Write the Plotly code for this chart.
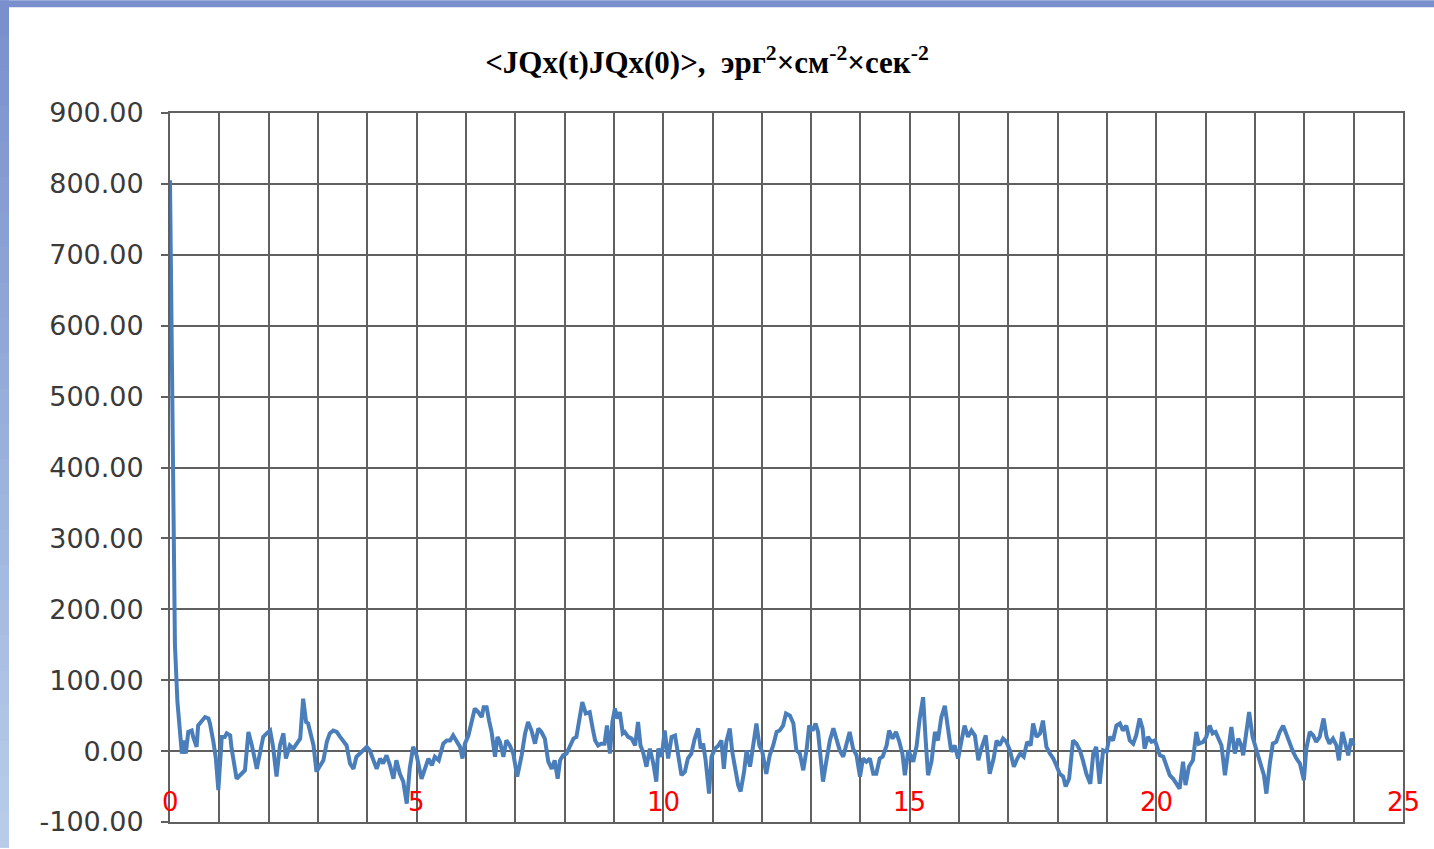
import plotly.graph_objects as go

# time values (x) and correlation function values (y)
t = [0.0, 0.05, 0.10, 0.15, 0.20, 0.24, 0.28, 0.32, 0.37, 0.44, 0.47, 0.54, 0.57, 0.64, 0.71, 0.78, 0.81, 0.88, 0.93, 0.98,
     1.05, 1.11, 1.15, 1.22, 1.25, 1.35, 1.42, 1.52, 1.59, 1.66, 1.76, 1.82, 1.89, 1.96,
     2.03, 2.09, 2.16, 2.23, 2.30, 2.35, 2.43, 2.50, 2.57, 2.64, 2.70, 2.76, 2.80, 2.91, 2.97,
     3.04, 3.11, 3.18, 3.24, 3.31, 3.38, 3.45, 3.51, 3.58, 3.65, 3.72, 3.78, 3.85, 3.92, 3.99,
     4.05, 4.12, 4.19, 4.26, 4.32, 4.39, 4.46, 4.53, 4.59, 4.66, 4.73, 4.80, 4.86, 4.93,
     5.00, 5.10, 5.17, 5.24, 5.31, 5.37, 5.45, 5.54, 5.61, 5.68, 5.74, 5.81, 5.88, 5.93, 5.98,
     6.05, 6.11, 6.18, 6.25, 6.32, 6.36, 6.42, 6.47, 6.52, 6.59, 6.64, 6.69, 6.76, 6.82, 6.89, 6.96,
     7.04, 7.13, 7.20, 7.26, 7.33, 7.40, 7.47, 7.53, 7.60, 7.67, 7.74, 7.80, 7.86, 7.91, 7.97,
     8.04, 8.11, 8.18, 8.24, 8.31, 8.36, 8.43, 8.51, 8.57, 8.62, 8.68, 8.74, 8.81, 8.86, 8.92, 8.97,
     9.02, 9.07, 9.12, 9.18, 9.22, 9.29, 9.36, 9.43, 9.49, 9.54, 9.59, 9.66, 9.73, 9.80, 9.86, 9.90, 9.97,
     10.03, 10.10, 10.17, 10.24, 10.30, 10.37, 10.44, 10.50, 10.57, 10.64, 10.71, 10.76, 10.81, 10.86, 10.93, 10.98,
     11.05, 11.12, 11.18, 11.23, 11.28, 11.35, 11.40, 11.47, 11.52, 11.57, 11.64, 11.69, 11.76, 11.81, 11.89, 11.95,
     12.01, 12.09, 12.16, 12.23, 12.30, 12.36, 12.43, 12.49, 12.57, 12.64, 12.70, 12.77, 12.84, 12.91, 12.96,
     13.03, 13.09, 13.14, 13.19, 13.24, 13.31, 13.38, 13.45, 13.51, 13.58, 13.65, 13.72, 13.78, 13.85, 13.92, 13.99,
     14.05, 14.12, 14.19, 14.26, 14.32, 14.39, 14.45, 14.53, 14.58, 14.65, 14.72, 14.78, 14.85, 14.90, 14.97,
     15.07, 15.14, 15.20, 15.27, 15.32, 15.37, 15.44, 15.51, 15.57, 15.64, 15.71, 15.78, 15.84, 15.91, 15.98,
     16.05, 16.11, 16.18, 16.25, 16.32, 16.39, 16.45, 16.54, 16.62, 16.70, 16.76, 16.82, 16.89, 16.96,
     17.03, 17.11, 17.18, 17.24, 17.31, 17.38, 17.45, 17.50, 17.57, 17.64, 17.70, 17.77, 17.84, 17.91, 17.97,
     18.04, 18.11, 18.16, 18.23, 18.31, 18.38, 18.45, 18.51, 18.58, 18.66, 18.72, 18.78, 18.85, 18.92, 18.99,
     19.05, 19.12, 19.19, 19.26, 19.32, 19.39, 19.46, 19.53, 19.59, 19.66, 19.72, 19.76, 19.83, 19.90, 19.97,
     20.07, 20.14, 20.20, 20.27, 20.34, 20.41, 20.47, 20.54, 20.59, 20.66, 20.74, 20.81, 20.86, 20.95,
     21.01, 21.08, 21.14, 21.20, 21.27, 21.32, 21.39, 21.45, 21.52, 21.59, 21.66, 21.72, 21.76, 21.80, 21.88, 21.95,
     22.03, 22.09, 22.18, 22.23, 22.30, 22.36, 22.43, 22.50, 22.57, 22.64, 22.70, 22.77, 22.84, 22.91, 22.99,
     23.04, 23.11, 23.18, 23.24, 23.31, 23.39, 23.45, 23.51, 23.58, 23.65, 23.70, 23.77, 23.84, 23.89, 23.95, 24.00]

jq = [805, 400, 150, 70, 18, -3.5, 15, -3.5, 27, 29, 20, 6, 36, 41, 48, 46, 39, 13, -10.5, -55,
      20, 20, 25, 22, 3.5, -39, -34, -27, 27, 8, -25, -6, 20, 25,
      29, 6, -36, 8, 25, -10.5, 8, 3.5, 10.5, 17.6, 74, 41, 39, 8, -29,
      -22, -13, 13, 25, 29, 27, 20, 15, 8, -17.6, -25, -8, -3.5, 1, 6,
      1, -10.5, -25, -10.5, -17.6, -6, -20, -39, -13, -32, -43, -74, -25, 6,
      -6, -39, -25, -10.5, -20, -8, -13, 10.5, 15, 15, 22, 15, 6, -10.5, 10.5,
      22, 41, 60, 55, 48, 62, 62, 43, 27, -8, 20, 13, -8, 15, 8, -3.5,
      -36, -6, 25, 41, 29, 10.5, 32, 27, 17.6, -15, -25, -13, -39, -13, -6,
      -3.5, 8, 17.6, 20, 50, 69, 53, 55, 32, 15, 8, 10.5, 10.5, 36, -3.5, 41,
      60, 46, 55, 25, 27, 20, 17.6, 8, 41, 8, -1, -22, 3.5, -17.6, -43, 3.5, -8,
      29, -10.5, 20, 22, -6, -34, -29, -10.5, -3.5, 17.6, 32, 3.5, 10.5, -13, -60, -8,
      3.5, 8, 15, -25, 13, 32, -1, -34, -48, -57, -29, 1, -22, 1, 39, 8,
      -1, -32, -6, 8, 27, 29, 36, 53, 50, 39, 1, -3.5, -27, 3.5, 36,
      29, 39, 27, -8, -43, -13, 15, 32, 15, 1, -8, 10.5, 27, 3.5, -6, -36,
      -10.5, -15, -10.5, -32, -32, -10.5, -8, 8, 29, 17.6, 27, 15, -3.5, -34, 1,
      -15, 8, 46, 76, 17.6, -34, -15, 27, 15, 48, 64, 27, -1, 8, -10.5,
      15, 36, 20, 29, 22, -13, 3.5, 22, -32, -10.5, 15, 8, 17.6, 13,
      1, -22, -10.5, -3.5, -8, 13, 8, 39, 20, 25, 43, 6, -3.5, -10.5, -20,
      -32, -36, -50, -39, 15, 10.5, 1, -13, -32, -46, -3.5, 6, -46, 1, -1,
      20, 15, 36, 39, 29, 36, 15, 10.5, 22, 46, 32, 3.5, 20, 13, 15,
      -6, -8, -22, -34, -39, -48, -53, -15, -48, -22, -13, 27, 10.5, 13,
      20, 36, 25, 27, 15, 8, -34, 1, 34, -3.5, 17.6, 8, -6, 15, 55, 20,
      -1, -13, -34, -60, -17.6, 10.5, 13, 27, 36, 22, 10.5, -1, -10.5, -17.6, -41,
      3.5, 27, 22, 13, 20, 46, 20, 10.5, 17.6, 8, -13, 27, 10.5, -6, 17.6, 8]

x_labels = [0, 5, 10, 15, 20, 25]
y_tickvals = list(range(-100, 1000, 100))
y_ticktext = ["%.2f" % v for v in y_tickvals]

TITLE = ("<b>&lt;JQx(t)JQx(0)&gt;,&nbsp; эрг<sup>2</sup>×см<sup>-2</sup>×сек<sup>-2</sup></b>")

fig = go.Figure()
fig.add_trace(go.Scatter(x=t, y=jq, mode="lines",
                         line=dict(color="#4A7EBB", width=4), showlegend=False))

grid_col = "#606060"
gw = 1.8

# Decorative slide frame (top bar and left gradient bar), in paper coordinates
L, R, T, B = 170, 31, 113, 25
W, H = 1434, 849
pw, ph = W - L - R, H - T - B
def px(xp): return (xp - L) / pw
def py(yp): return (H - B - yp) / ph

shapes = []
shapes.append(dict(type="rect", xref="paper", yref="paper", x0=px(0), x1=px(W), y0=py(7), y1=py(0),
                   fillcolor="#7990CC", line=dict(width=0), layer="below"))
n = 24
c0 = (0x79, 0x90, 0xCC)
c1 = (0xB8, 0xCC, 0xEA)
for i in range(n):
    f = i / (n - 1)
    c = tuple(int(round(c0[k] + (c1[k] - c0[k]) * f)) for k in range(3))
    shapes.append(dict(type="rect", xref="paper", yref="paper", x0=px(0), x1=px(9),
                       y0=py(H * (i + 1) / n + 1), y1=py(H * i / n),
                       fillcolor="rgb(%d,%d,%d)" % c, line=dict(width=0), layer="below"))

annotations = [dict(x=v, y=-72, xref="x", yref="y", text=str(v), showarrow=False,
                    xanchor="center", yanchor="middle",
                    font=dict(family="DejaVu Sans", size=26, color="#ff0000"))
               for v in x_labels]

fig.update_layout(
    width=W, height=H,
    margin=dict(l=L, r=R, t=T, b=B),
    paper_bgcolor="white", plot_bgcolor="white",
    shapes=shapes,
    annotations=annotations,
    title=dict(text=TITLE, x=0.493, xanchor="center", y=1 - 62 / H, yanchor="middle",
               yref="container",
               font=dict(family="Liberation Serif", size=31, color="black")),
    xaxis=dict(range=[0, 25], dtick=1, tick0=0, showticklabels=False,
               showgrid=True, gridcolor=grid_col, gridwidth=gw, zeroline=False,
               showline=True, linecolor=grid_col, linewidth=gw, mirror=True, ticks=""),
    yaxis=dict(range=[-100, 900], tickmode="array", tickvals=y_tickvals, ticktext=y_ticktext,
               showgrid=True, gridcolor=grid_col, gridwidth=gw, zeroline=False,
               showline=True, linecolor=grid_col, linewidth=gw, mirror=True,
               ticks="outside", ticklen=7, tickcolor=grid_col, tickwidth=gw,
               ticklabelstandoff=12,
               tickfont=dict(family="DejaVu Sans", size=27, color="#3a3a3a")),
)

fig.write_html("out.html", config={"displayModeBar": False},
               post_script="document.body.style.margin='0';")
